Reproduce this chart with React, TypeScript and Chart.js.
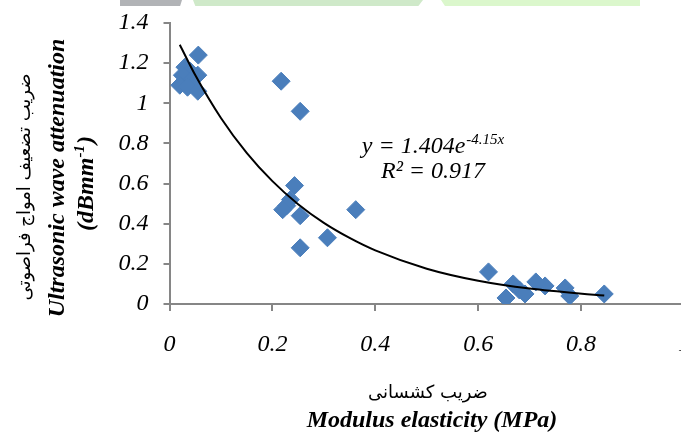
import React, { useEffect, useRef } from "react";
import { Chart, registerables } from "chart.js";

Chart.register(...registerables);

// Measured points (Modulus elasticity, attenuation)
const modulusValues = [
  0.056, 0.03, 0.04, 0.025, 0.055, 0.045, 0.02, 0.035, 0.055,
  0.217, 0.254, 0.243, 0.235, 0.228, 0.22, 0.254, 0.254, 0.307, 0.362,
  0.62, 0.654, 0.668, 0.68, 0.691, 0.712, 0.73, 0.769, 0.778, 0.845,
];
const attenuationValues = [
  1.24, 1.18, 1.16, 1.14, 1.14, 1.12, 1.09, 1.08, 1.06,
  1.11, 0.96, 0.59, 0.52, 0.49, 0.47, 0.44, 0.28, 0.33, 0.47,
  0.16, 0.03, 0.1, 0.07, 0.05, 0.11, 0.09, 0.08, 0.04, 0.05,
];

// Trendline samples
const trendX = [0.02, 0.05, 0.1, 0.15, 0.2, 0.25, 0.3, 0.35, 0.4, 0.5, 0.6, 0.7, 0.845];
const trendY = [1.292, 1.141, 0.927, 0.753, 0.612, 0.497, 0.404, 0.329, 0.267, 0.176, 0.116, 0.077, 0.042];

const xTickValues = [0, 0.2, 0.4, 0.6, 0.8, 1];
const yTickValues = [0, 0.2, 0.4, 0.6, 0.8, 1, 1.2, 1.4];

const EQ_MAIN = "y = 1.404e";
const EQ_SUP = "-4.15x";
const R2_TEXT = "R² = 0.917";
const X_TITLE_FA = "ضریب کشسانی";
const X_TITLE_EN = "Modulus elasticity (MPa)";
const Y_TITLE_FA = "ضریب تضعیف امواج فراصوتی";
const Y_TITLE_EN = "Ultrasonic wave attenuation";
const Y_UNIT_A = "(dBmm";
const Y_UNIT_SUP = "-1";
const Y_UNIT_B = ")";

const SERIF = '"Liberation Serif", "Times New Roman", serif';
const AXIS_GRAY = "#868686";
const BLUE = "#4a7ebb";

const textPlugin = {
  id: "customTexts",
  afterDraw(chart: any) {
    const ctx: CanvasRenderingContext2D = chart.ctx;
    ctx.save();
    ctx.fillStyle = "#000";

    // Equation
    ctx.textAlign = "left";
    ctx.textBaseline = "alphabetic";
    ctx.font = `italic 24px ${SERIF}`;
    const wMain = ctx.measureText(EQ_MAIN).width;
    ctx.font = `italic 15px ${SERIF}`;
    const wSup = ctx.measureText(EQ_SUP).width;
    const total = wMain + 1 + wSup;
    const startX = 433 - total / 2;
    ctx.font = `italic 24px ${SERIF}`;
    ctx.fillText(EQ_MAIN, startX, 153);
    ctx.font = `italic 15px ${SERIF}`;
    ctx.fillText(EQ_SUP, startX + wMain + 1, 144);

    ctx.textAlign = "center";
    ctx.font = `italic 24px ${SERIF}`;
    ctx.fillText(R2_TEXT, 433, 178);

    // X titles
    ctx.font = `18px "DejaVu Sans", sans-serif`;
    ctx.textBaseline = "middle";
    ctx.fillText(X_TITLE_FA, 428, 393);
    ctx.font = `bold italic 24px ${SERIF}`;
    ctx.textBaseline = "alphabetic";
    ctx.fillText(X_TITLE_EN, 432, 427);

    // Y titles (rotated)
    ctx.save();
    ctx.translate(25, 187);
    ctx.rotate(-Math.PI / 2);
    ctx.font = `18px "DejaVu Sans", sans-serif`;
    ctx.textBaseline = "middle";
    ctx.textAlign = "center";
    ctx.fillText(Y_TITLE_FA, 0, 0);
    ctx.restore();

    ctx.save();
    ctx.translate(64, 178);
    ctx.rotate(-Math.PI / 2);
    ctx.font = `bold italic 24px ${SERIF}`;
    ctx.textBaseline = "alphabetic";
    ctx.textAlign = "center";
    ctx.fillText(Y_TITLE_EN, 0, 0);
    ctx.restore();

    ctx.save();
    ctx.translate(93, 183.5);
    ctx.rotate(-Math.PI / 2);
    ctx.textBaseline = "alphabetic";
    ctx.textAlign = "left";
    ctx.font = `bold italic 24px ${SERIF}`;
    const wa = ctx.measureText(Y_UNIT_A).width;
    const wb = ctx.measureText(Y_UNIT_B).width;
    ctx.font = `bold italic 15px ${SERIF}`;
    const ws = ctx.measureText(Y_UNIT_SUP).width;
    const tot = wa + ws + wb + 1;
    let px = -tot / 2;
    ctx.font = `bold italic 24px ${SERIF}`;
    ctx.fillText(Y_UNIT_A, px, 0);
    px += wa;
    ctx.font = `bold italic 15px ${SERIF}`;
    ctx.fillText(Y_UNIT_SUP, px, -9);
    px += ws + 1;
    ctx.font = `bold italic 24px ${SERIF}`;
    ctx.fillText(Y_UNIT_B, px, 0);
    ctx.restore();

    ctx.restore();
  },
};

const fmt = (v: number) => String(Number(Number(v).toFixed(1)));

export default function App() {
  const ref = useRef<HTMLCanvasElement | null>(null);

  useEffect(() => {
    if (!ref.current) return;
    const points = modulusValues.map((x, i) => ({ x, y: attenuationValues[i] }));
    const trend = trendX.map((x, i) => ({ x, y: trendY[i] }));
    const tickFont = { family: SERIF, size: 24, style: "italic" as const };
    const chart = new Chart(ref.current, {
      type: "scatter",
      data: {
        datasets: [
          {
            type: "line" as any,
            data: trend,
            borderColor: "#000",
            borderWidth: 2,
            pointRadius: 0,
            fill: false,
            showLine: true,
            cubicInterpolationMode: "monotone",
          } as any,
          {
            data: points,
            pointStyle: "rectRot",
            pointRadius: 9,
            backgroundColor: BLUE,
            borderColor: BLUE,
            borderWidth: 1,
          },
        ],
      },
      options: {
        animation: false,
        responsive: false,
        devicePixelRatio: 1,
        layout: { padding: { left: 0, right: 36, top: 23, bottom: 0 } },
        plugins: { legend: { display: false }, tooltip: { enabled: false } },
        scales: {
          x: {
            type: "linear",
            min: xTickValues[0],
            max: xTickValues[xTickValues.length - 1],
            afterBuildTicks: (s: any) => {
              s.ticks = xTickValues.map((v) => ({ value: v }));
            },
            afterFit: (s: any) => {
              s.height = 137;
              s.paddingLeft = 0;
              s.paddingRight = 0;
            },
            ticks: {
              font: tickFont,
              color: "#000",
              padding: 19,
              maxRotation: 0,
              autoSkip: false,
              callback: (v: any) => fmt(v),
            },
            grid: { drawOnChartArea: false, drawTicks: true, tickLength: 7, color: AXIS_GRAY, lineWidth: 2 },
            border: { display: true, color: AXIS_GRAY, width: 2 },
          },
          y: {
            type: "linear",
            min: yTickValues[0],
            max: yTickValues[yTickValues.length - 1],
            afterBuildTicks: (s: any) => {
              s.ticks = yTickValues.map((v) => ({ value: v }));
            },
            afterFit: (s: any) => {
              s.width = 169.5;
              s.paddingTop = 0;
              s.paddingBottom = 0;
            },
            ticks: {
              font: tickFont,
              color: "#000",
              padding: 15,
              autoSkip: false,
              callback: (v: any) => fmt(v),
            },
            grid: { drawOnChartArea: false, drawTicks: true, tickLength: 6, color: AXIS_GRAY, lineWidth: 2 },
            border: { display: true, color: AXIS_GRAY, width: 2 },
          },
        },
      },
      plugins: [textPlugin],
    });
    return () => chart.destroy();
  }, []);

  return (
    <div
      style={{
        position: "fixed",
        left: 0,
        top: 0,
        width: 681,
        height: 441,
        overflow: "hidden",
        background: "#fff",
      }}
    >
      <canvas ref={ref} width={720} height={441} style={{ display: "block", width: 720, height: 441 }} />
      <div style={{ position: "absolute", left: 120, top: 0, width: 62, height: 6, background: "#b1b3b6", clipPath: "polygon(0 0,100% 0,97% 100%,0 100%)" }} />
      <div style={{ position: "absolute", left: 193, top: 0, width: 230, height: 6, background: "#cfe9c9", clipPath: "polygon(0 0,100% 0,98% 100%,1% 100%)" }} />
      <div style={{ position: "absolute", left: 441, top: 0, width: 199, height: 6, background: "#dbf7cc", clipPath: "polygon(0 0,100% 0,100% 100%,2% 100%)" }} />
    </div>
  );
}
